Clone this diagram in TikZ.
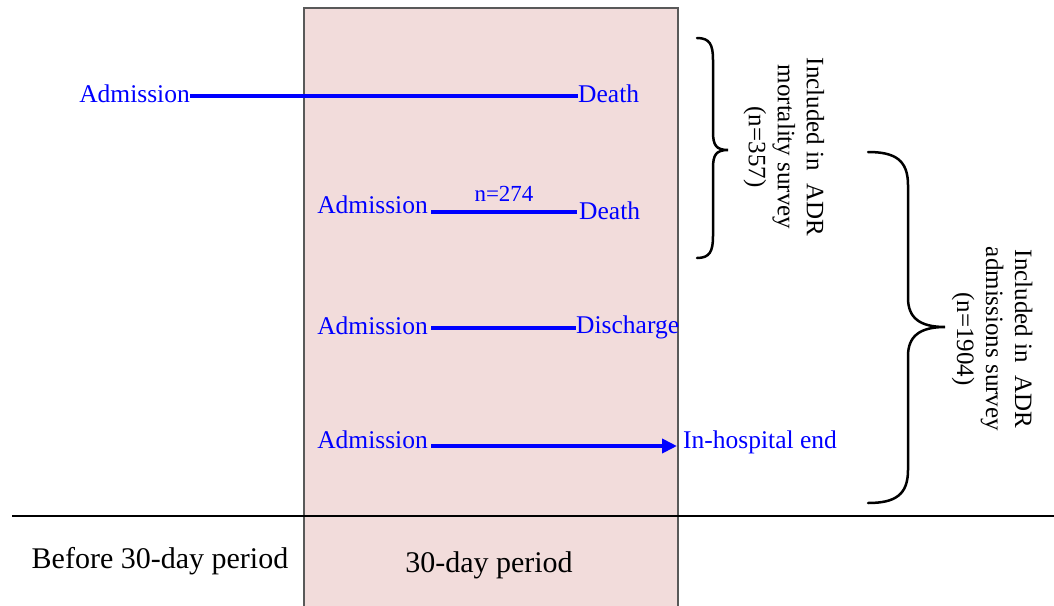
\documentclass[tikz,border=0pt]{standalone}
\usepackage{fontspec}
\setmainfont{Liberation Serif}
\usetikzlibrary{arrows.meta}
\definecolor{pinkfill}{HTML}{F2DCDB}
\definecolor{framegray}{HTML}{595959}
\begin{document}
\begin{tikzpicture}[x=1pt,y=-1pt,
  lbl/.style={text=blue, font=\fontsize{25.5}{30}\selectfont, inner sep=0pt},
  nlbl/.style={text=blue, font=\fontsize{23}{27}\selectfont, inner sep=0pt},
  blk/.style={text=black, font=\fontsize{30}{34}\selectfont, inner sep=0pt},
  rot/.style={text=black, font=\fontsize{25}{29}\selectfont, inner sep=0pt, rotate=-90, align=center},
  tl/.style={blue, line width=4pt},
  bracestyle/.style={black, line width=2.5pt, line cap=round}]
\useasboundingbox (0,0) rectangle (1054,605);
\begin{scope}
\clip (0,0) rectangle (1054,605);
\draw[framegray, fill=pinkfill, line width=1.5pt] (304,8) rectangle (678,615);
\end{scope}
\draw[black, line width=1.5pt] (12,516) -- (1054,516);

% row 1
\node[lbl, anchor=east] (a1) at (190,94) {Admission};
\node[lbl, anchor=west] (d1) at (578,94) {Death};
\coordinate (s1) at (190,96);
\coordinate (e1) at (578,96);
\draw[tl] (s1) -- (e1);

% row 2
\node[lbl, anchor=east] (a2) at (428,205) {Admission};
\node[lbl, anchor=west] (d2) at (579,211) {Death};
\node[nlbl] (n2) at (504,194) {n=274};
\coordinate (s2) at (431,212);
\coordinate (e2) at (577,212);
\draw[tl] (s2) -- (e2);

% row 3
\node[lbl, anchor=east] (a3) at (428,326) {Admission};
\node[lbl, anchor=west] (d3) at (576,327) {Discharge};
\coordinate (s3) at (431,328);
\coordinate (e3) at (576,328);
\draw[tl] (s3) -- (e3);

% row 4
\node[lbl, anchor=east] (a4) at (428,440) {Admission};
\node[lbl, anchor=west] (d4) at (683,442) {In-hospital end};
\coordinate (s4) at (431,446);
\coordinate (e4) at (677,446);
\draw[tl, -{Triangle[length=15pt,width=14pt]}] (s4) -- (e4);

% braces
\draw[bracestyle] (697,38) .. controls (710,38) and (713,45) .. (713,60) -- (713,132) .. controls (713,145) and (716,150) .. (728,150) .. controls (716,150) and (713,155) .. (713,168) -- (713,236) .. controls (713,251) and (710,258) .. (697,258);
\draw[bracestyle] (868,152) .. controls (895,152) and (908,160) .. (908,185) -- (908,298) .. controls (908,318) and (920,327) .. (945,327) .. controls (920,327) and (908,336) .. (908,356) -- (908,470) .. controls (908,495) and (895,503) .. (868,503);

\node[rot] (t1) at (784,147) {Included in\ \ ADR\\mortality survey\\(n=357)};
\node[rot] (t2) at (992,339) {Included in\ \ ADR\\admissions survey\\(n=1904)};

% bottom labels
\node[blk] (b1) at (160,561) {Before 30-day period};
\node[blk] (b2) at (489,565) {30-day period};
\end{tikzpicture}
\end{document}
